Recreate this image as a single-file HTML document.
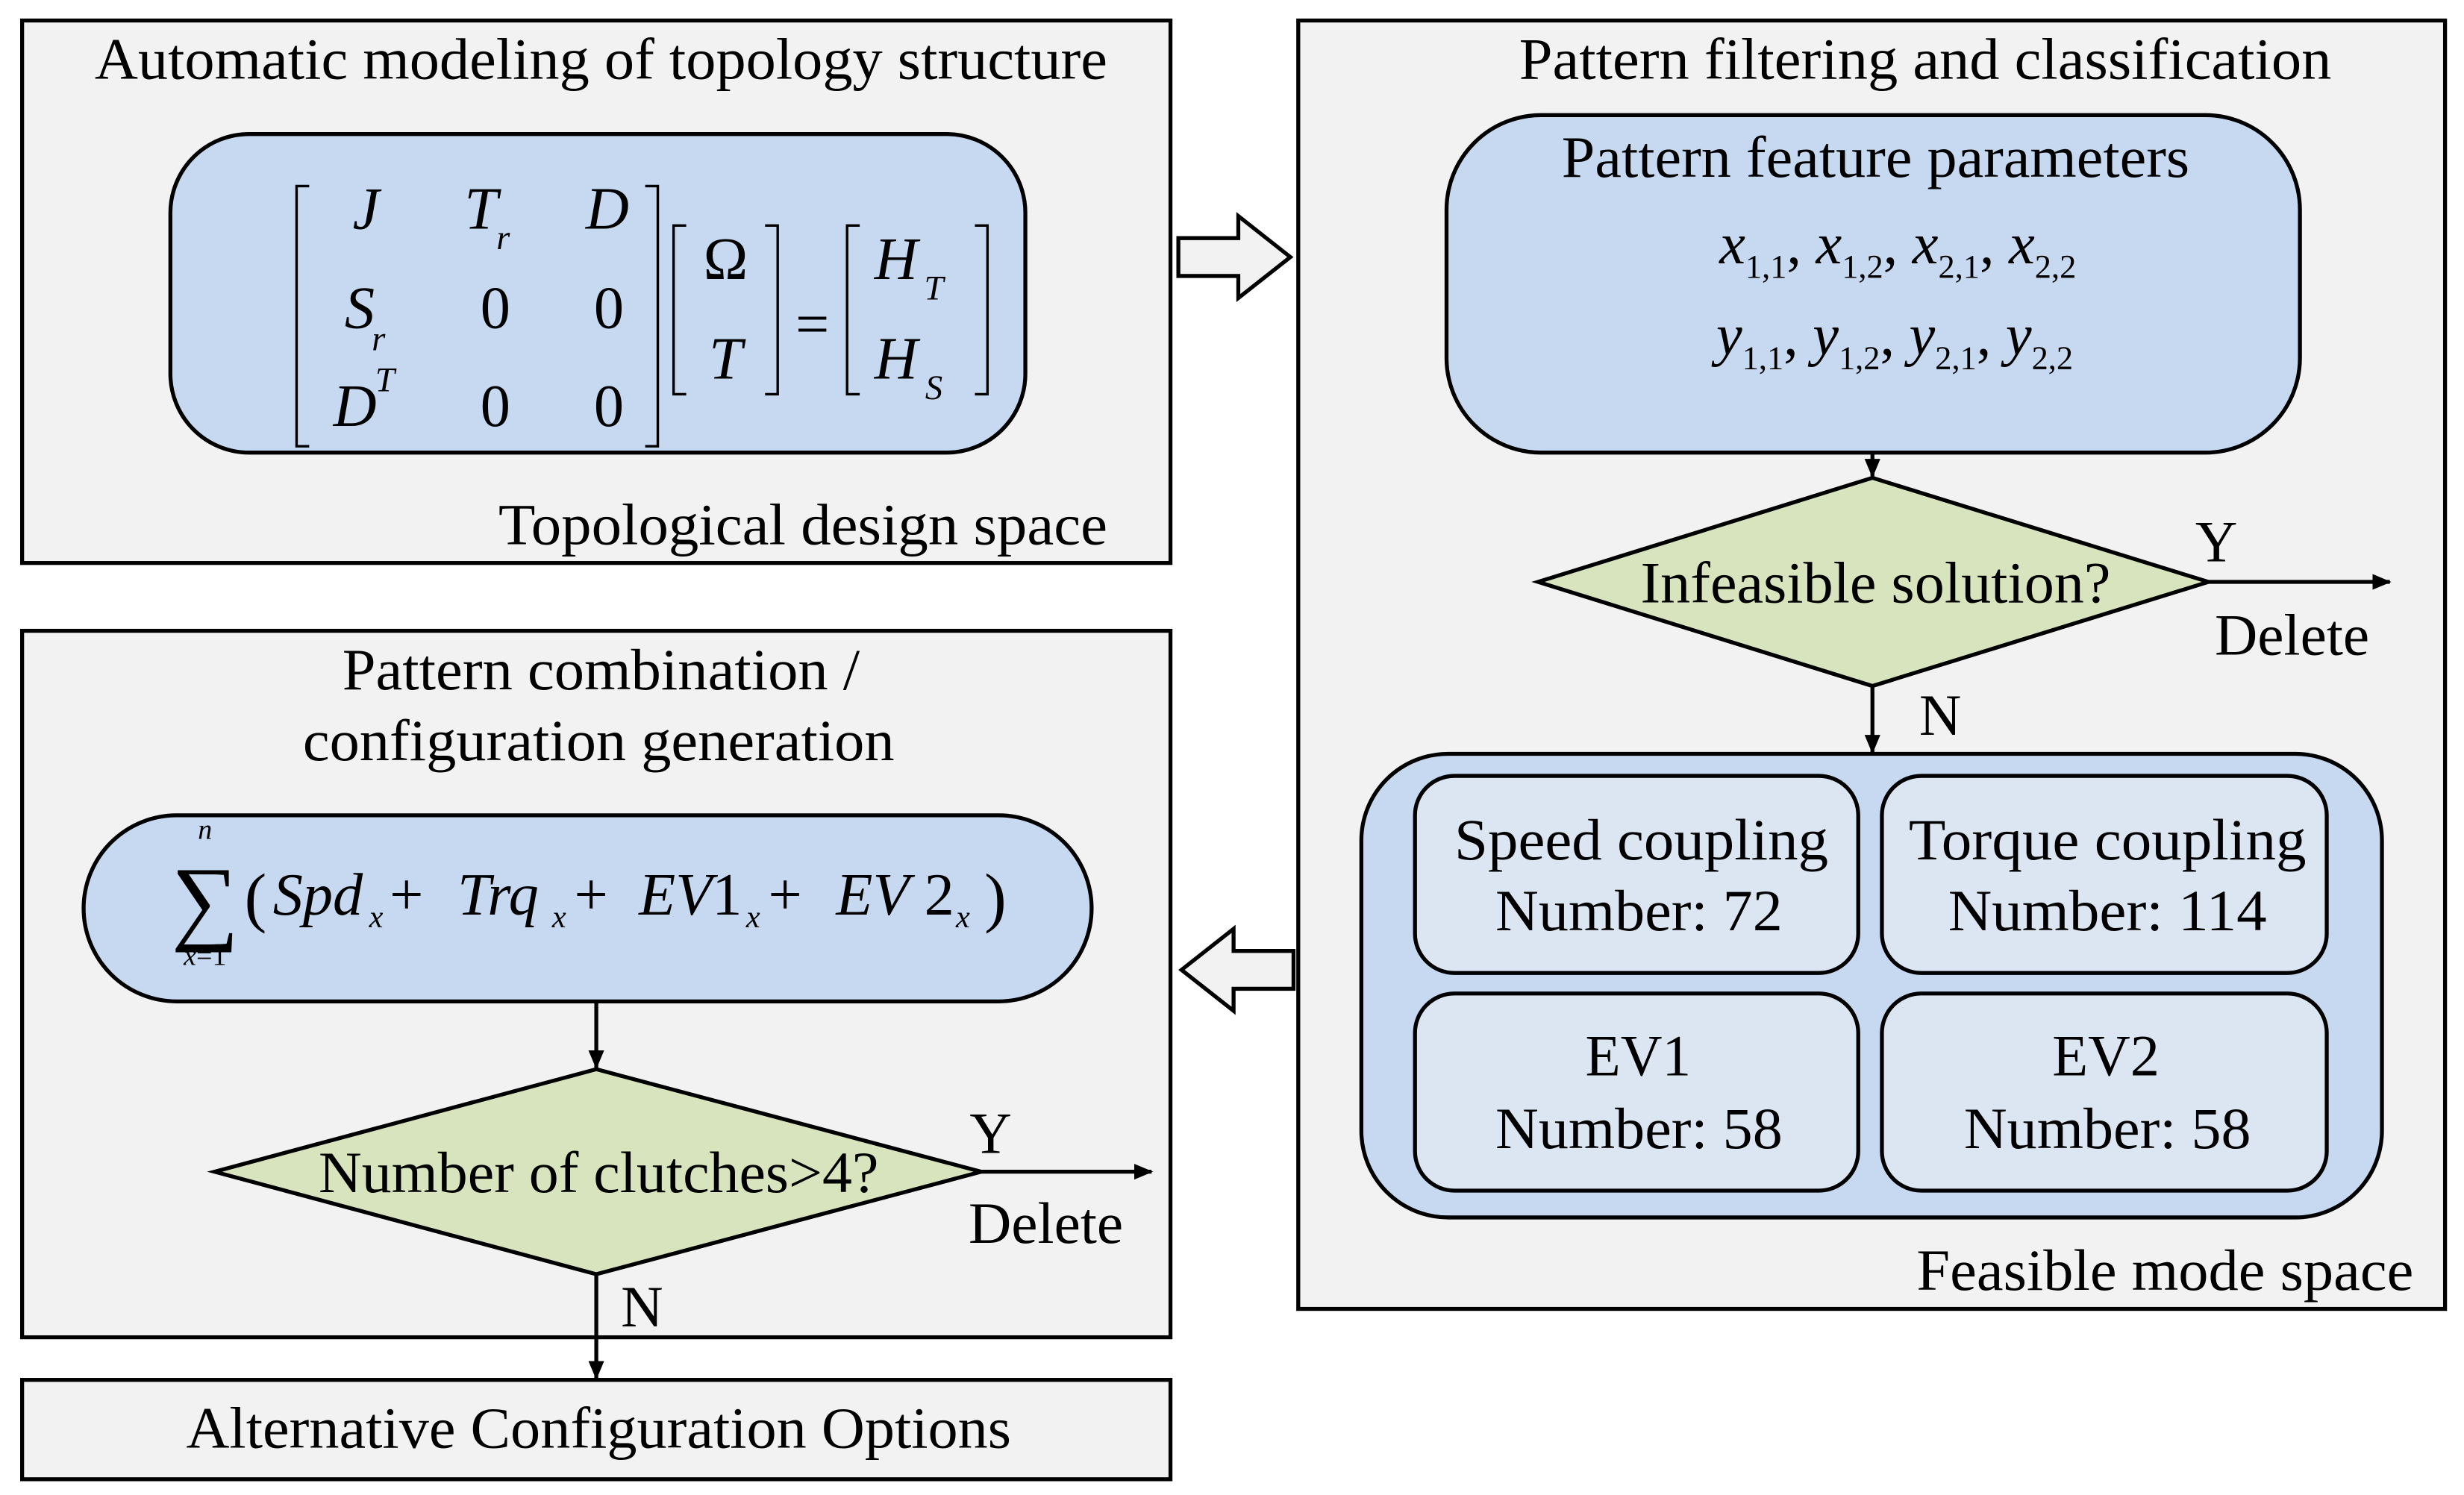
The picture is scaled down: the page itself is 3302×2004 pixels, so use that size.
<!DOCTYPE html>
<html><head><meta charset="utf-8"><style>html,body{margin:0;padding:0;background:#fff}svg{display:block}text{font-family:"Liberation Serif",serif;fill:#000}</style></head>
<body>
<svg width="3302" height="2004" viewBox="0 0 1562 948" xmlns="http://www.w3.org/2000/svg">
<defs>
<marker id="ah" markerWidth="12" markerHeight="12" refX="11" refY="6" orient="auto" markerUnits="userSpaceOnUse" viewBox="0 0 12 12"><path d="M0,1 L12,6 L0,11 Z" fill="#000"/></marker>
</defs>
<rect width="1562" height="948" fill="#fff"/>
<!-- Box1 -->
<rect x="14" y="13" width="728" height="344" fill="#f2f2f2" stroke="#000" stroke-width="2.5"/>
<text x="60" y="50" font-size="37" textLength="642" lengthAdjust="spacingAndGlyphs">Automatic modeling of topology structure</text>
<rect x="108" y="85" width="542" height="202" rx="50" fill="#c6d9f0" stroke="#000" stroke-width="2.5"/>
<g fill="none" stroke="#000" stroke-width="1.6">
<path d="M196,118 H188 V283 H196"/><path d="M409,118 H417 V283 H409"/>
<path d="M435,143 H427 V250 H435"/><path d="M485,143 H493 V250 H485"/>
<path d="M545,143 H537 V250 H545"/><path d="M618,143 H626 V250 H618"/>
</g>
<g font-size="38" font-style="italic" text-anchor="middle">
<text x="232" y="145">J</text><text x="305" y="145">T</text><text x="319" y="158" font-size="22">r</text><text x="385" y="145">D</text>
<text x="228" y="208">S</text><text x="240" y="222" font-size="22">r</text>
<text x="225" y="270">D</text><text x="244" y="248" font-size="22">T</text>
<text x="460" y="240">T</text>
<text x="568" y="177">H</text><text x="592" y="190" font-size="22">T</text>
<text x="568" y="240">H</text><text x="592" y="253" font-size="22">S</text>
</g>
<g font-size="38" text-anchor="middle">
<text x="314" y="208">0</text><text x="386" y="208">0</text>
<text x="314" y="270">0</text><text x="386" y="270">0</text>
<text x="460" y="177">Ω</text><text x="515" y="218">=</text>
</g>
<text x="316" y="345" font-size="37" textLength="386" lengthAdjust="spacingAndGlyphs">Topological design space</text>
<!-- hollow arrow right -->
<path d="M747,151 H785 V137 L818,163 L785,189 V175 H747 Z" fill="#f2f2f2" stroke="#000" stroke-width="2.5"/>
<!-- Box2 -->
<rect x="14" y="400" width="728" height="448" fill="#f2f2f2" stroke="#000" stroke-width="2.5"/>
<text x="217" y="437" font-size="37" textLength="328" lengthAdjust="spacingAndGlyphs">Pattern combination /</text>
<text x="192" y="482" font-size="37" textLength="375" lengthAdjust="spacingAndGlyphs">configuration generation</text>
<rect x="53" y="517" width="639" height="118" rx="59" fill="#c6d9f0" stroke="#000" stroke-width="2.5"/>
<text x="130" y="591" font-size="60" text-anchor="middle">∑</text>
<text x="130" y="532" font-size="18" font-style="italic" text-anchor="middle">n</text>
<text x="130" y="612" font-size="18" text-anchor="middle"><tspan font-style="italic">x</tspan>=1</text>
<text x="155" y="583" font-size="42">(</text>
<g font-size="38">
<text x="173" y="580" font-style="italic">Spd</text><text x="234" y="588" font-size="20" font-style="italic">x</text>
<text x="247" y="580">+</text>
<text x="290" y="580" font-style="italic">Trq</text><text x="350" y="588" font-size="20" font-style="italic">x</text>
<text x="364" y="580">+</text>
<text x="405" y="580"><tspan font-style="italic">EV</tspan>1</text><text x="473" y="588" font-size="20" font-style="italic">x</text>
<text x="487" y="580">+</text>
<text x="530" y="580"><tspan font-style="italic">EV</tspan> 2</text><text x="606" y="588" font-size="20" font-style="italic">x</text>
</g>
<text x="624" y="583" font-size="42">)</text>
<line x1="378" y1="635" x2="378" y2="677" stroke="#000" stroke-width="2.5" marker-end="url(#ah)"/>
<path d="M136,743 L378,678 L622,743 L378,808 Z" fill="#d7e4bd" stroke="#000" stroke-width="2.5"/>
<text x="202" y="756" font-size="37" textLength="355" lengthAdjust="spacingAndGlyphs">Number of clutches&gt;4?</text>
<line x1="622" y1="743" x2="730" y2="743" stroke="#000" stroke-width="2.5" marker-end="url(#ah)"/>
<text x="628" y="731" font-size="37" text-anchor="middle">Y</text>
<text x="614" y="788" font-size="37" textLength="98" lengthAdjust="spacingAndGlyphs">Delete</text>
<line x1="378" y1="808" x2="378" y2="874" stroke="#000" stroke-width="2.5" marker-end="url(#ah)"/>
<text x="407" y="841" font-size="37" text-anchor="middle">N</text>
<!-- Box3 -->
<rect x="14" y="875" width="728" height="63" fill="#f2f2f2" stroke="#000" stroke-width="2.5"/>
<text x="118" y="918" font-size="37" textLength="523" lengthAdjust="spacingAndGlyphs">Alternative Configuration Options</text>
<!-- Box4 -->
<rect x="823" y="13" width="727" height="817" fill="#f2f2f2" stroke="#000" stroke-width="2.5"/>
<text x="963" y="50" font-size="37" textLength="515" lengthAdjust="spacingAndGlyphs">Pattern filtering and classification</text>
<rect x="917" y="73" width="541" height="214" rx="60" fill="#c6d9f0" stroke="#000" stroke-width="2.5"/>
<text x="990" y="112" font-size="37" textLength="398" lengthAdjust="spacingAndGlyphs">Pattern feature parameters</text>
<g font-size="37">
<text x="1090" y="167"><tspan font-style="italic">x</tspan><tspan font-size="21" dy="9">1,1</tspan><tspan dy="-9">, </tspan><tspan font-style="italic">x</tspan><tspan font-size="21" dy="9">1,2</tspan><tspan dy="-9">, </tspan><tspan font-style="italic">x</tspan><tspan font-size="21" dy="9">2,1</tspan><tspan dy="-9">, </tspan><tspan font-style="italic">x</tspan><tspan font-size="21" dy="9">2,2</tspan></text>
<text x="1088" y="225"><tspan font-style="italic">y</tspan><tspan font-size="21" dy="9">1,1</tspan><tspan dy="-9">, </tspan><tspan font-style="italic">y</tspan><tspan font-size="21" dy="9">1,2</tspan><tspan dy="-9">, </tspan><tspan font-style="italic">y</tspan><tspan font-size="21" dy="9">2,1</tspan><tspan dy="-9">, </tspan><tspan font-style="italic">y</tspan><tspan font-size="21" dy="9">2,2</tspan></text>
</g>
<line x1="1187" y1="287" x2="1187" y2="302" stroke="#000" stroke-width="2.5" marker-end="url(#ah)"/>
<path d="M975,369 L1187,303 L1400,369 L1187,435 Z" fill="#d7e4bd" stroke="#000" stroke-width="2.5"/>
<text x="1040" y="382" font-size="37" textLength="298" lengthAdjust="spacingAndGlyphs">Infeasible solution?</text>
<line x1="1400" y1="369" x2="1515" y2="369" stroke="#000" stroke-width="2.5" marker-end="url(#ah)"/>
<text x="1405" y="356" font-size="37" text-anchor="middle">Y</text>
<text x="1404" y="415" font-size="37" textLength="98" lengthAdjust="spacingAndGlyphs">Delete</text>
<line x1="1187" y1="435" x2="1187" y2="477" stroke="#000" stroke-width="2.5" marker-end="url(#ah)"/>
<text x="1230" y="466" font-size="37" text-anchor="middle">N</text>
<rect x="863" y="478" width="647" height="294" rx="55" fill="#c6d9f0" stroke="#000" stroke-width="2.5"/>
<g fill="#dce6f2" stroke="#000" stroke-width="2.5">
<rect x="897" y="492" width="281" height="125" rx="25"/>
<rect x="1193" y="492" width="282" height="125" rx="25"/>
<rect x="897" y="630" width="281" height="125" rx="25"/>
<rect x="1193" y="630" width="282" height="125" rx="25"/>
</g>
<g font-size="37" lengthAdjust="spacingAndGlyphs">
<text x="922" y="545" textLength="237" lengthAdjust="spacingAndGlyphs">Speed coupling</text><text x="948" y="590" textLength="182" lengthAdjust="spacingAndGlyphs">Number: 72</text>
<text x="1210" y="545" textLength="252" lengthAdjust="spacingAndGlyphs">Torque coupling</text><text x="1235" y="590" textLength="202" lengthAdjust="spacingAndGlyphs">Number: 114</text>
<text x="1005" y="682" textLength="67" lengthAdjust="spacingAndGlyphs">EV1</text><text x="948" y="728" textLength="182" lengthAdjust="spacingAndGlyphs">Number: 58</text>
<text x="1301" y="682" textLength="68" lengthAdjust="spacingAndGlyphs">EV2</text><text x="1245" y="728" textLength="182" lengthAdjust="spacingAndGlyphs">Number: 58</text>
</g>
<text x="1215" y="818" font-size="37" textLength="315" lengthAdjust="spacingAndGlyphs">Feasible mode space</text>
<!-- hollow arrow left -->
<path d="M820,603 H782 V589 L749,615 L782,641 V627 H820 Z" fill="#f2f2f2" stroke="#000" stroke-width="2.5"/>
</svg>
</body></html>
